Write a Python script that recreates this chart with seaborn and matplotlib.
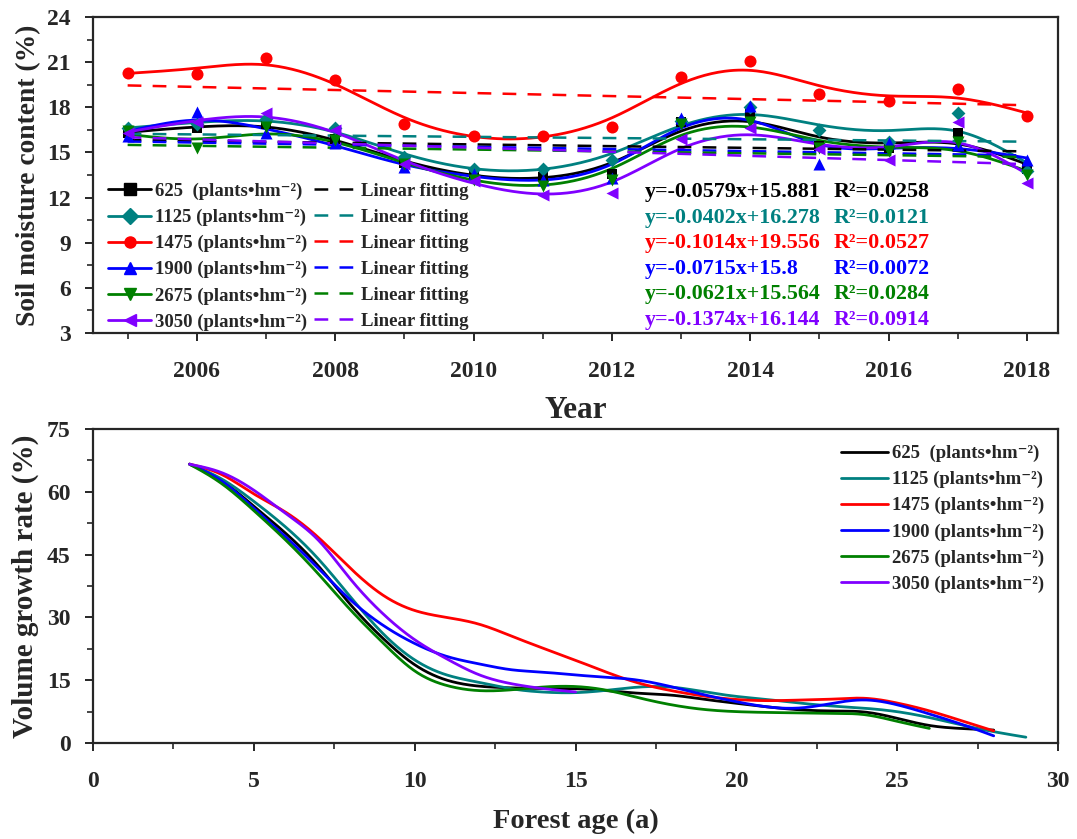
import numpy as np
import pandas as pd
import matplotlib
matplotlib.use("Agg")
import matplotlib.pyplot as plt
from matplotlib.lines import Line2D
from matplotlib.ticker import MultipleLocator
import seaborn as sns

# ---------------- data ----------------
years = [2005, 2006, 2007, 2008, 2009, 2010, 2011, 2012, 2013, 2014, 2015, 2016, 2017, 2018]
densities = ["625", "1125", "1475", "1900", "2675", "3050"]

sm_625 = [16.3, 16.6, 16.9, 15.9, 14.3, 13.5, 13.4, 13.6, 17.0, 17.6, 15.4, 15.3, 16.3, 13.9]
sm_1125 = [16.6, 16.9, 17.2, 16.6, 14.7, 13.9, 13.9, 14.5, 17.1, 18.0, 16.5, 15.7, 17.6, 13.8]
sm_1475 = [20.3, 20.2, 21.3, 19.8, 16.9, 16.1, 16.1, 16.7, 20.0, 21.1, 18.9, 18.4, 19.2, 17.4]
sm_1900 = [16.1, 17.7, 16.3, 15.6, 14.0, 13.6, 13.2, 13.3, 17.3, 18.1, 14.2, 15.6, 15.5, 14.5]
sm_2675 = [16.4, 15.3, 16.7, 15.8, 14.2, 13.2, 12.8, 13.2, 16.9, 17.0, 15.3, 15.1, 15.7, 13.5]
sm_3050 = [16.3, 17.0, 17.6, 16.5, 14.2, 13.1, 12.2, 12.3, 15.9, 16.6, 15.2, 14.5, 17.0, 13.0]

fit_slope = [-0.0579, -0.0402, -0.1014, -0.0715, -0.0621, -0.1374]
fit_intercept = [15.881, 16.278, 19.556, 15.8, 15.564, 16.144]
fit_r2 = ["0.0258", "0.0121", "0.0527", "0.0072", "0.0284", "0.0914"]
eq_text = ["y=-0.0579x+15.881", "y=-0.0402x+16.278", "y=-0.1014x+19.556",
           "y=-0.0715x+15.8", "y=-0.0621x+15.564", "y=-0.1374x+16.144"]

vg_625 = [66.5, 62.8, 56.4, 50.0, 42.5, 32.9, 25.2, 18.6, 15.0, 13.6, 13.2, 13.0, 13.0,
          12.5, 11.8, 11.5, 10.4, 9.5, 8.6, 7.9, 7.6, 7.5, 5.9, 4.1, 3.5, 3.1]
vg_1125 = [66.5, 63.2, 57.6, 51.5, 44.1, 34.9, 26.2, 19.8, 16.2, 14.6, 12.9, 12.2, 12.0,
           12.6, 13.4, 13.4, 12.2, 11.1, 10.4, 9.5, 8.8, 8.3, 7.5, 6.1, 4.3, 2.7, 1.4]
vg_1475 = [66.5, 64.4, 59.2, 55.2, 49.2, 41.7, 35.3, 31.6, 30.0, 28.5, 25.5, 22.6, 19.8,
           16.8, 14.2, 12.5, 11.2, 10.4, 10.1, 10.3, 10.4, 10.8, 9.5, 7.7, 5.3, 2.9]
vg_1900 = [66.5, 62.8, 55.9, 49.2, 41.8, 34.1, 28.2, 23.8, 20.6, 19.0, 17.4, 17.0, 16.2,
           15.7, 15.0, 13.4, 11.5, 9.9, 8.6, 8.3, 9.5, 10.4, 9.1, 6.9, 4.5, 1.7]
vg_2675 = [66.5, 62.1, 55.4, 48.4, 40.5, 31.7, 24.2, 17.0, 13.8, 12.5, 12.7, 13.4, 13.5,
           12.6, 10.7, 9.1, 8.0, 7.5, 7.3, 7.2, 7.0, 6.9, 5.1, 3.5]
vg_3050 = [66.5, 64.7, 60.4, 54.5, 48.9, 38.9, 31.0, 24.6, 20.2, 16.2, 14.2, 13.0, 12.2]
vg_start_age = 3

colors = ["#000000", "#008080", "#FF0000", "#0000FF", "#008000", "#8000FF"]
markers = ["s", "D", "o", "^", "v", "<"]
msizes = [60, 50, 75, 75, 75, 75]


def smooth_spline(x, y, lam, xs):
    """Reinsch cubic smoothing spline (natural)."""
    x = np.asarray(x, float); y = np.asarray(y, float)
    n = len(x); h = np.diff(x)
    Q = np.zeros((n, n - 2)); R = np.zeros((n - 2, n - 2))
    for j in range(1, n - 1):
        Q[j - 1, j - 1] = 1 / h[j - 1]
        Q[j, j - 1] = -1 / h[j - 1] - 1 / h[j]
        Q[j + 1, j - 1] = 1 / h[j]
        R[j - 1, j - 1] = (h[j - 1] + h[j]) / 3
        if j < n - 2:
            R[j - 1, j] = R[j, j - 1] = h[j] / 6
    K = Q @ np.linalg.solve(R, Q.T)
    g = np.linalg.solve(np.eye(n) + lam * K, y)
    gam = np.concatenate([[0.0], np.linalg.solve(R, Q.T @ g), [0.0]])
    idx = np.clip(np.searchsorted(x, xs) - 1, 0, n - 2)
    xl = x[idx]; xr = x[idx + 1]; hh = xr - xl
    a = xs - xl; b = xr - xs
    return ((a * g[idx + 1] + b * g[idx]) / hh
            - a * b / 6 * ((1 + a / hh) * gam[idx + 1] + (1 + b / hh) * gam[idx]))


sns.set_style("ticks")
FAM = ["Liberation Serif", "DejaVu Serif"]
plt.rcParams["font.family"] = FAM
plt.rcParams["font.weight"] = "bold"
plt.rcParams["axes.labelweight"] = "bold"
plt.rcParams["axes.linewidth"] = 1.6
plt.rcParams["xtick.major.width"] = 1.4
plt.rcParams["ytick.major.width"] = 1.4
plt.rcParams["xtick.minor.width"] = 1.2
plt.rcParams["ytick.minor.width"] = 1.2
plt.rcParams["xtick.direction"] = "out"
plt.rcParams["ytick.direction"] = "out"

fig = plt.figure(figsize=(10.77, 8.39), dpi=100)
ax1 = fig.add_axes([0.0864, 0.6031, 0.896, 0.3766])
ax2 = fig.add_axes([0.0864, 0.1144, 0.896, 0.3743])

# ---------------- top panel ----------------
sm_all = [sm_625, sm_1125, sm_1475, sm_1900, sm_2675, sm_3050]
yr = np.array(years, float)
xs = np.linspace(yr[0], yr[-1], 400)
for vals, c, m, s in zip(sm_all, colors, markers, msizes):
    ys = smooth_spline(yr, vals, 0.15, xs)
    sns.lineplot(x=xs, y=ys, color=c, lw=2.0, ax=ax1, legend=False, sort=False)
    sns.scatterplot(x=yr, y=vals, color=c, marker=m, s=s, edgecolor=c, linewidth=0,
                    ax=ax1, legend=False, zorder=5)
idx = np.arange(1, len(years) + 1)
for k, c in enumerate(colors):
    yf = fit_slope[k] * idx + fit_intercept[k]
    sns.lineplot(x=yr, y=yf, color=c, lw=1.8, ax=ax1, legend=False,
                 dashes=False, linestyle=(0, (5.5, 4.5)))

ax1.set_xlim(2004.5, 2018.45)
ax1.set_ylim(3, 24)
ax1.xaxis.set_major_locator(MultipleLocator(2))
ax1.xaxis.set_minor_locator(MultipleLocator(1))
ax1.yaxis.set_major_locator(MultipleLocator(3))
ax1.yaxis.set_minor_locator(MultipleLocator(1.5))
ax1.tick_params(which="major", length=6, labelsize=17, pad=14)
ax1.tick_params(axis="y", which="major", pad=10)
ax1.tick_params(which="minor", length=4)
ax1.set_xlabel("Year", fontsize=22.5, fontweight="bold", labelpad=10)
ax1.set_ylabel("Soil moisture content (%)", fontsize=19.8, fontweight="bold", labelpad=4)
for t in ax1.get_xticklabels() + ax1.get_yticklabels():
    t.set_fontweight("bold")

labels = [f"{d}{'  ' if d == '625' else ' '}(plants•hm⁻²)" for d in densities]
LEGPROP = {"family": FAM, "weight": "bold", "size": 13.5}
h_series = [Line2D([], [], color=c, lw=2, marker=m, markersize=8) for c, m in zip(colors, markers)]
h_fit = [Line2D([], [], color=c, lw=1.8, linestyle=(0, (5.5, 4.5))) for c in colors]
ax1.legend(h_series + h_fit, labels + ["Linear fitting"] * 6, ncol=2,
           loc="lower left", bbox_to_anchor=(0.0, -0.04), frameon=False,
           prop=LEGPROP, handlelength=2.3, handletextpad=0.2, columnspacing=0.35,
           labelspacing=0.47, borderpad=0.3)

for k, c in enumerate(colors):
    yy = 0.446 - k * 0.081
    ax1.text(0.572, yy, eq_text[k], transform=ax1.transAxes, color=c, fontsize=15.8,
             fontweight="bold", va="center", ha="left")
    ax1.text(0.767, yy, "R²=" + fit_r2[k], transform=ax1.transAxes, color=c,
             fontsize=15.8, fontweight="bold", va="center", ha="left")

# ---------------- bottom panel ----------------
vg_all = [vg_625, vg_1125, vg_1475, vg_1900, vg_2675, vg_3050]
for vals, c, lab in zip(vg_all, colors, labels):
    ages = np.arange(vg_start_age, vg_start_age + len(vals), dtype=float)
    xa = np.linspace(ages[0], ages[-1], 500)
    ya = smooth_spline(ages, vals, 0.03, xa)
    sns.lineplot(x=xa, y=ya, color=c, lw=2.0, ax=ax2, label=lab, sort=False)

ax2.set_xlim(0, 30)
ax2.set_ylim(0, 75)
ax2.xaxis.set_major_locator(MultipleLocator(5))
ax2.xaxis.set_minor_locator(MultipleLocator(2.5))
ax2.yaxis.set_major_locator(MultipleLocator(15))
ax2.yaxis.set_minor_locator(MultipleLocator(7.5))
ax2.tick_params(which="major", length=6, labelsize=17, pad=14)
ax2.tick_params(axis="y", which="major", pad=10)
ax2.tick_params(which="minor", length=4)
ax2.set_xlabel("Forest age (a)", fontsize=20.5, fontweight="bold", labelpad=12)
ax2.set_ylabel("Volume growth rate (%)", fontsize=21, fontweight="bold", labelpad=6)
for t in ax2.get_xticklabels() + ax2.get_yticklabels():
    t.set_fontweight("bold")
ax2.legend(loc="upper right", bbox_to_anchor=(1.002, 1.0), frameon=False,
           prop=LEGPROP, handlelength=2.5, handletextpad=0.2, labelspacing=0.47,
           borderpad=0.35)

fig.savefig("out.png", dpi=100)
